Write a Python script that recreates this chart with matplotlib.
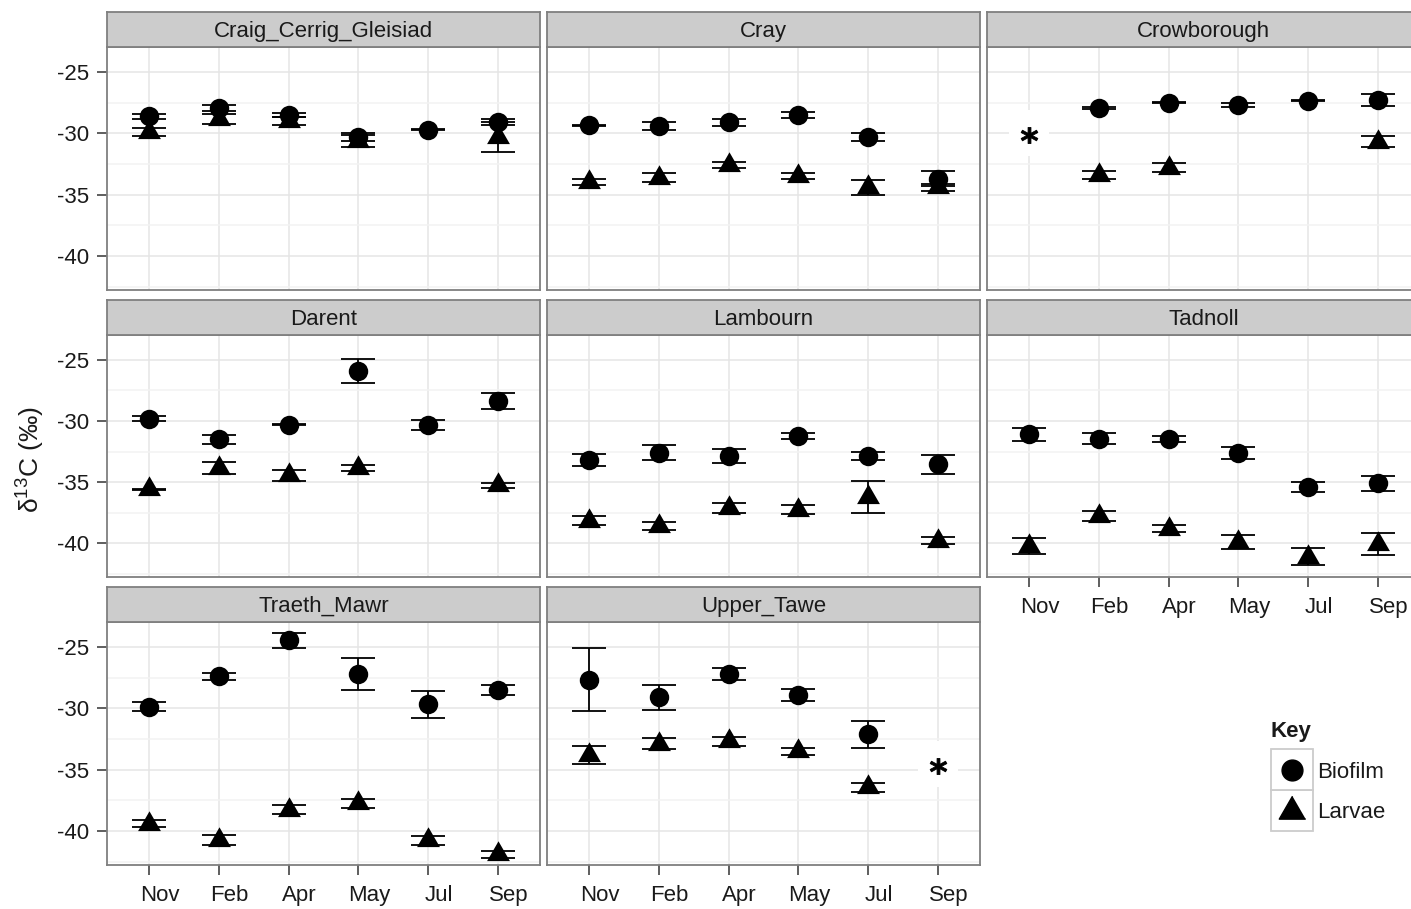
import numpy as np
import matplotlib
matplotlib.use("Agg")
import matplotlib.pyplot as plt
from matplotlib.transforms import ScaledTranslation
from matplotlib.patches import Rectangle

nan = np.nan

months = ["Nov", "Feb", "Apr", "May", "Jul", "Sep"]
sites = ["Craig_Cerrig_Gleisiad", "Cray", "Crowborough", "Darent",
         "Lambourn", "Tadnoll", "Traeth_Mawr", "Upper_Tawe"]

# delta13C means and standard errors, one row per site, months in order above
biofilm_mean = [
    [-28.6, -27.9, -28.5, -30.3, -29.7, -29.1],
    [-29.35, -29.4, -29.1, -28.5, -30.3, -33.7],
    [nan, -27.95, -27.5, -27.7, -27.35, -27.3],
    [-29.8, -31.5, -30.3, -25.9, -30.35, -28.35],
    [-33.2, -32.6, -32.85, -31.2, -32.85, -33.55],
    [-31.1, -31.45, -31.45, -32.6, -35.4, -35.1],
    [-29.85, -27.4, -24.45, -27.2, -29.65, -28.5],
    [-27.65, -29.1, -27.2, -28.9, -32.1, nan],
]
biofilm_se = [
    [0.2, 0.25, 0.2, 0.3, 0.05, 0.25],
    [0.05, 0.3, 0.3, 0.25, 0.3, 0.6],
    [nan, 0.1, 0.05, 0.15, 0.05, 0.5],
    [0.2, 0.35, 0.05, 0.95, 0.4, 0.65],
    [0.5, 0.6, 0.55, 0.25, 0.35, 0.75],
    [0.5, 0.45, 0.25, 0.5, 0.4, 0.6],
    [0.35, 0.25, 0.6, 1.3, 1.1, 0.4],
    [2.6, 1.0, 0.5, 0.5, 1.1, nan],
]
larvae_mean = [
    [-29.9, -28.8, -29.0, -30.6, nan, -30.3],
    [-34.0, -33.6, -32.6, -33.5, -34.4, -34.4],
    [nan, -33.4, -32.8, nan, nan, -30.7],
    [-35.6, -33.85, -34.45, -33.85, nan, -35.25],
    [-38.15, -38.6, -37.1, -37.25, -36.2, -39.8],
    [-40.2, -37.8, -38.8, -39.9, -41.1, -40.1],
    [-39.4, -40.7, -38.25, -37.75, -40.75, -41.9],
    [-33.8, -32.9, -32.7, -33.5, -36.45, nan],
]
larvae_se = [
    [0.35, 0.4, 0.3, 0.5, nan, 1.2],
    [0.25, 0.4, 0.25, 0.25, 0.6, 0.3],
    [nan, 0.3, 0.35, nan, nan, 0.45],
    [0.05, 0.5, 0.45, 0.25, nan, 0.2],
    [0.4, 0.35, 0.4, 0.35, 1.3, 0.3],
    [0.65, 0.4, 0.25, 0.6, 0.7, 0.9],
    [0.3, 0.4, 0.4, 0.35, 0.35, 0.3],
    [0.7, 0.45, 0.4, 0.3, 0.35, nan],
]

# sampling occasions with no data, flagged with an asterisk
flag_sites = ["Crowborough", "Upper_Tawe"]
flag_months = ["Nov", "Sep"]
flag_values = [-30.15, -34.7]

y_ticks = [-40, -35, -30, -25]
y_minor = [-42.5, -37.5, -32.5, -27.5]
y_limits = (-42.77, -22.96)

W, H = 1411, 909
plt.rcParams["font.family"] = ["Liberation Sans", "DejaVu Sans"]
fig = plt.figure(figsize=(W / 100, H / 100), dpi=100)

tri = [(0, 1), (-0.866, -0.5), (0.866, -0.5)]
# white label backing for the asterisks, sitting a little above the glyph
label_box = [(-0.8, -0.85), (0.8, -0.85), (0.8, 1.0), (-0.8, 1.0)]
col_left = [107, 547, 987]
panel_w = 433
row_top = [47, 335, 622]
row_bot = [290, 577, 865]
strip_h = 35
grey50 = "#7F7F7F"
txt = "#1A1A1A"
x = np.arange(len(months))
label_shift = ScaledTranslation(11 / 100, 0, fig.dpi_scale_trans)

for i, site in enumerate(sites):
    r, c = divmod(i, 3)
    left, top, bot = col_left[c], row_top[r], row_bot[r]
    ax = fig.add_axes([left / W, 1 - bot / H, panel_w / W, (bot - top) / H])
    sax = fig.add_axes([left / W, 1 - top / H, panel_w / W, strip_h / H])

    # strip
    sax.set_facecolor("#CCCCCC")
    sax.set_xticks([]); sax.set_yticks([])
    for s in sax.spines.values():
        s.set_color(grey50); s.set_linewidth(1.3)
    sax.text(0.5, 0.44, site, ha="center", va="center", fontsize=16,
             color=txt, transform=sax.transAxes)

    # panel frame and grid
    ax.set_xlim(-0.6, len(months) - 0.4)
    ax.set_ylim(*y_limits)
    ax.set_axisbelow(True)
    for s in ax.spines.values():
        s.set_color(grey50); s.set_linewidth(1.3)
    ax.set_xticks(x)
    ax.set_yticks(y_ticks)
    ax.set_yticks(y_minor, minor=True)
    ax.grid(which="major", color="#E5E5E5", linewidth=1.1)
    ax.grid(which="minor", axis="y", color="#F2F2F2", linewidth=1.1)
    ax.tick_params(which="minor", length=0)
    ax.tick_params(which="major", length=7, width=1.1, color="#333333",
                   labelsize=16, labelcolor=txt)
    ax.tick_params(axis="x", pad=7.5)
    ax.tick_params(axis="y", pad=6)

    show_x = (r == 2) or (r == 1 and c == 2)
    if show_x:
        ax.set_xticklabels(months)
        for lbl in ax.get_xticklabels():
            lbl.set_transform(lbl.get_transform() + label_shift)
    else:
        ax.tick_params(axis="x", length=0, labelbottom=False)
    if c == 0:
        ax.set_yticklabels([str(v) for v in y_ticks])
    else:
        ax.tick_params(axis="y", length=0, labelleft=False)

    # data
    for means, ses, mk, ms in ((biofilm_mean, biofilm_se, "o", 14),
                               (larvae_mean, larvae_se, tri, 19)):
        m = np.array(means[i], dtype=float)
        e = np.array(ses[i], dtype=float)
        ok = np.isfinite(m)
        ax.errorbar(x[ok], m[ok], yerr=e[ok], fmt="none", ecolor="black",
                    elinewidth=1.3, capsize=12.5, capthick=1.3, zorder=3)
        ax.plot(x[ok], m[ok], linestyle="none", marker=mk, markersize=ms,
                color="black", markeredgewidth=0, zorder=4)

    for fs, fm, fv in zip(flag_sites, flag_months, flag_values):
        if fs == site:
            xi = months.index(fm)
            ax.plot([xi], [fv], linestyle="none", marker=label_box,
                    markersize=36, color="white", markeredgewidth=0, zorder=5)
            ax.plot([xi], [fv], linestyle="none", marker=r"$\mathbf{*}$",
                    markersize=12, color="black", markeredgewidth=0.6,
                    zorder=6)

# y axis title
fig.text(31 / W, 1 - 460 / H, r"$\mathregular{\delta^{13}}$C (‰)", rotation=90,
         ha="center", va="center", fontsize=19, color=txt)

# legend
fig.text(1271 / W, 1 - 732 / H, "Key", ha="left", va="center", fontsize=16,
         fontweight="bold", color=txt)
lax = fig.add_axes([1271 / W, 1 - 831 / H, 42 / W, 82 / H])
lax.set_xlim(0, 1); lax.set_ylim(0, 2)
lax.axis("off")
for k in range(2):
    lax.add_patch(Rectangle((0, k), 1, 1, facecolor="white", edgecolor="#CCCCCC",
                            linewidth=1.3, clip_on=False))
lax.plot([0.5], [1.5], marker="o", markersize=15, color="black", linestyle="none")
lax.plot([0.5], [0.5], marker=tri, markersize=22, color="black", linestyle="none")
fig.text(1317 / W, 1 - 772 / H, "Biofilm", ha="left", va="center", fontsize=16,
         color=txt)
fig.text(1317 / W, 1 - 813 / H, "Larvae", ha="left", va="center", fontsize=16,
         color=txt)

fig.savefig("out.png", dpi=100)
